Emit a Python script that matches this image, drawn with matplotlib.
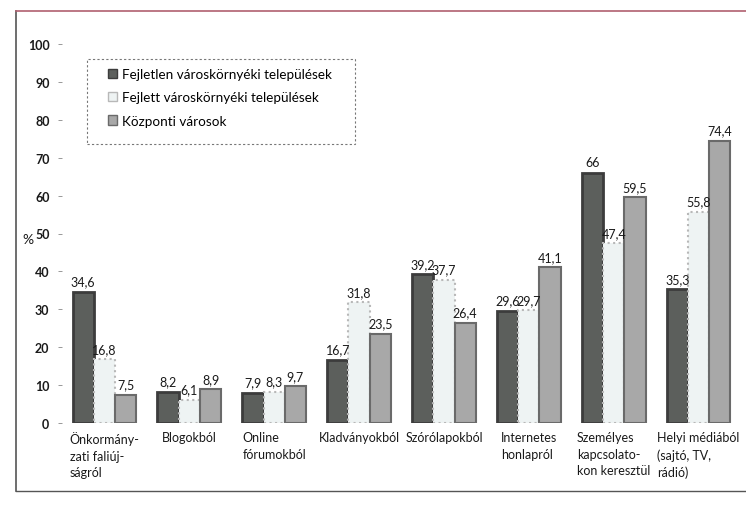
import matplotlib
matplotlib.use("Agg")
import matplotlib.pyplot as plt
from matplotlib.patches import Patch, Rectangle
from matplotlib.lines import Line2D
import numpy as np

categories = ["Önkormány-\nzati faliúj-\nságról", "Blogokból", "Online\nfórumokból",
              "Kladványokból", "Szórólapokból", "Internetes\nhonlapról",
              "Személyes\nkapcsolato-\nkon keresztül", "Helyi médiából\n(sajtó, TV,\nrádió)"]
series_names = ["Fejletlen városkörnyéki települések",
                "Fejlett városkörnyéki települések",
                "Központi városok"]
fejletlen = [34.6, 8.2, 7.9, 16.7, 39.2, 29.6, 66, 35.3]
fejlett = [16.8, 6.1, 8.3, 31.8, 37.7, 29.7, 47.4, 55.8]
kozponti = [7.5, 8.9, 9.7, 23.5, 26.4, 41.1, 59.5, 74.4]
yticks = list(range(0, 101, 10))

plt.rcParams['font.family'] = ['Lato', 'DejaVu Sans']

fig = plt.figure(figsize=(7.46, 5.06), dpi=100)
ax = fig.add_axes([62/746, 1-424/506, 679/746, (424-45)/506])

x = np.arange(len(categories))
w = 0.25
styles = [
    dict(color="#5c5f5c", edgecolor="#3c3c3c", linewidth=2.0, linestyle="-"),
    dict(color="#eef3f3", edgecolor="#b8b8b8", linewidth=1.5, linestyle=":"),
    dict(color="#a8a8a8", edgecolor="#6a6a6a", linewidth=1.5, linestyle="-"),
]
data = [fejletlen, fejlett, kozponti]

def fmt(v):
    return ("%g" % v).replace(".", ",")

for i, (vals, st) in enumerate(zip(data, styles)):
    pos = x + (i - 1) * w
    ax.bar(pos, vals, w, **st, zorder=2)
    for p, v in zip(pos, vals):
        ax.text(p, v + 1.2, fmt(v), ha="center", va="bottom", fontsize=9, color="#1a1a1a")

ax.set_xlim(-0.5, len(categories) - 0.5)
ax.set_ylim(0, 100)
ax.set_yticks(yticks)
ax.set_yticklabels([str(t) for t in yticks], fontsize=9, color="#1a1a1a", fontweight="bold")
ax.tick_params(axis="y", length=3, width=0.6, color="#888888", pad=6)
ax.set_xticks([])
for s in ax.spines.values():
    s.set_visible(False)

for xi, c in zip(x, categories):
    ax.text(xi, -2.2, c, ha="center", va="top", multialignment="left",
            fontsize=9, color="#1a1a1a", linespacing=1.45)

fig.text(28/746, 1-240/506, "%", ha="center", va="center", fontsize=10, color="#1a1a1a")

# legend box (dashed)
fig.add_artist(Rectangle((87/746, 1-145/506), (355-87)/746, (145-60)/506,
                         transform=fig.transFigure, fill=False, edgecolor="#777777",
                         linewidth=0.8, linestyle=(0, (2, 2))))
handles = [Patch(facecolor=st["color"], edgecolor=st["edgecolor"], linewidth=1.0) for st in styles]
leg = fig.legend(handles, series_names, loc="upper left", bbox_to_anchor=(108/746, 1-69/506),
                 fontsize=9.7, frameon=False, handlelength=0.7, handleheight=0.7,
                 handletextpad=0.35, labelspacing=0.85, borderpad=0, borderaxespad=0)

# outer frame
fig.add_artist(Line2D([16/746, 16/746], [1-492/506, 1-12/506], color="#555555", lw=1.2))
fig.add_artist(Line2D([16/746, 1.0], [1-12/506, 1-12/506], color="#b06070", lw=1.2))
fig.add_artist(Line2D([16/746, 1.0], [1-492/506, 1-492/506], color="#555555", lw=1.0))

fig.savefig("out.png", dpi=100)
